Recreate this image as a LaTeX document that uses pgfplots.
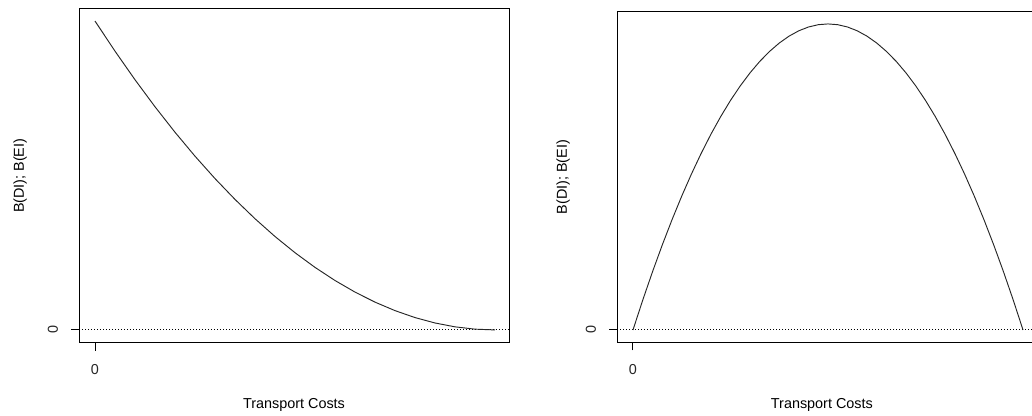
\documentclass[border=0pt]{standalone}
\usepackage{pgfplots}
\pgfplotsset{compat=1.18}
\usepackage{fontspec}
\setmainfont{Liberation Sans}
\begin{document}
\fontsize{10.8pt}{12pt}\selectfont
\begin{tikzpicture}
\useasboundingbox (0,0) rectangle (774pt,312pt);
\clip (0,0) rectangle (774pt,312pt);
\pgfplotsset{
  rplot/.style={
    scale only axis,
    axis line style={black, line width=0.75pt},
    tick style={black, line width=0.75pt},
    tick align=outside,
    major tick length=6pt,
    xtick pos=bottom, ytick pos=left,
    xtick={0}, ytick={0},
    xticklabels={0}, yticklabels={0},
    /pgf/number format/assume math mode=true,
    xticklabel style={anchor=center, yshift=-14.2pt, font=\fontsize{10.8pt}{12pt}\selectfont, text=black!85},
    yticklabel style={rotate=90, anchor=center, yshift=13.5pt, font=\fontsize{10.8pt}{12pt}\selectfont, text=black!85},
    label style={font=\fontsize{10.8pt}{12pt}\selectfont, text=black!85},
    xlabel={Transport Costs},
    ylabel={B(DI); B(EI)},
  }
}
% Left panel
\begin{axis}[rplot,
  at={(59.25pt,55.05pt)}, anchor=south west,
  width=322.5pt, height=250.2pt,
  xmin=-0.04, xmax=1.035, ymin=-0.041, ymax=1.039,
  every axis x label/.style={at={(axis description cs:0.5,-0.188)}, anchor=center},
  every axis y label/.style={at={(axis description cs:-0.137,0.5)}, rotate=90, anchor=center},
]
\addplot[black, line width=0.75pt, dash pattern=on 0.75pt off 1.5pt] coordinates {(-0.04,0) (1.035,0)};
\addplot[black!85, line width=0.7pt] coordinates {
(0,1) (0.05,0.9025) (0.1,0.81) (0.15,0.7225) (0.2,0.64) (0.25,0.5625)
(0.3,0.49) (0.35,0.4225) (0.4,0.36) (0.45,0.3025) (0.5,0.25) (0.55,0.2025)
(0.6,0.16) (0.65,0.1225) (0.7,0.09) (0.75,0.0625) (0.8,0.04) (0.85,0.0225)
(0.9,0.01) (0.95,0.0025) (1,0)};
\end{axis}
% Right panel
\begin{axis}[rplot,
  at={(462.75pt,55.125pt)}, anchor=south west,
  width=316.2pt, height=248.1pt,
  xmin=-0.041, xmax=1.04, ymin=-0.041, ymax=1.040,
  every axis x label/.style={at={(axis description cs:0.486,-0.19)}, anchor=center},
  every axis y label/.style={at={(axis description cs:-0.128,0.5)}, rotate=90, anchor=center},
]
\addplot[black, line width=0.75pt, dash pattern=on 0.75pt off 1.5pt] coordinates {(-0.041,0) (1.04,0)};
\addplot[black!85, line width=0.7pt] coordinates {
(0,0) (0.025,0.0975) (0.05,0.19) (0.075,0.2775) (0.1,0.36) (0.125,0.4375) (0.15,0.51) (0.175,0.5775)
(0.2,0.64) (0.225,0.6975) (0.25,0.75) (0.275,0.7975) (0.3,0.84) (0.325,0.8775) (0.35,0.91) (0.375,0.9375)
(0.4,0.96) (0.425,0.9775) (0.45,0.99) (0.475,0.9975) (0.5,1) (0.525,0.9975) (0.55,0.99) (0.575,0.9775)
(0.6,0.96) (0.625,0.9375) (0.65,0.91) (0.675,0.8775) (0.7,0.84) (0.725,0.7975) (0.75,0.75) (0.775,0.6975)
(0.8,0.64) (0.825,0.5775) (0.85,0.51) (0.875,0.4375) (0.9,0.36) (0.925,0.2775) (0.95,0.19) (0.975,0.0975) (1,0)};
\end{axis}
\end{tikzpicture}
\end{document}
